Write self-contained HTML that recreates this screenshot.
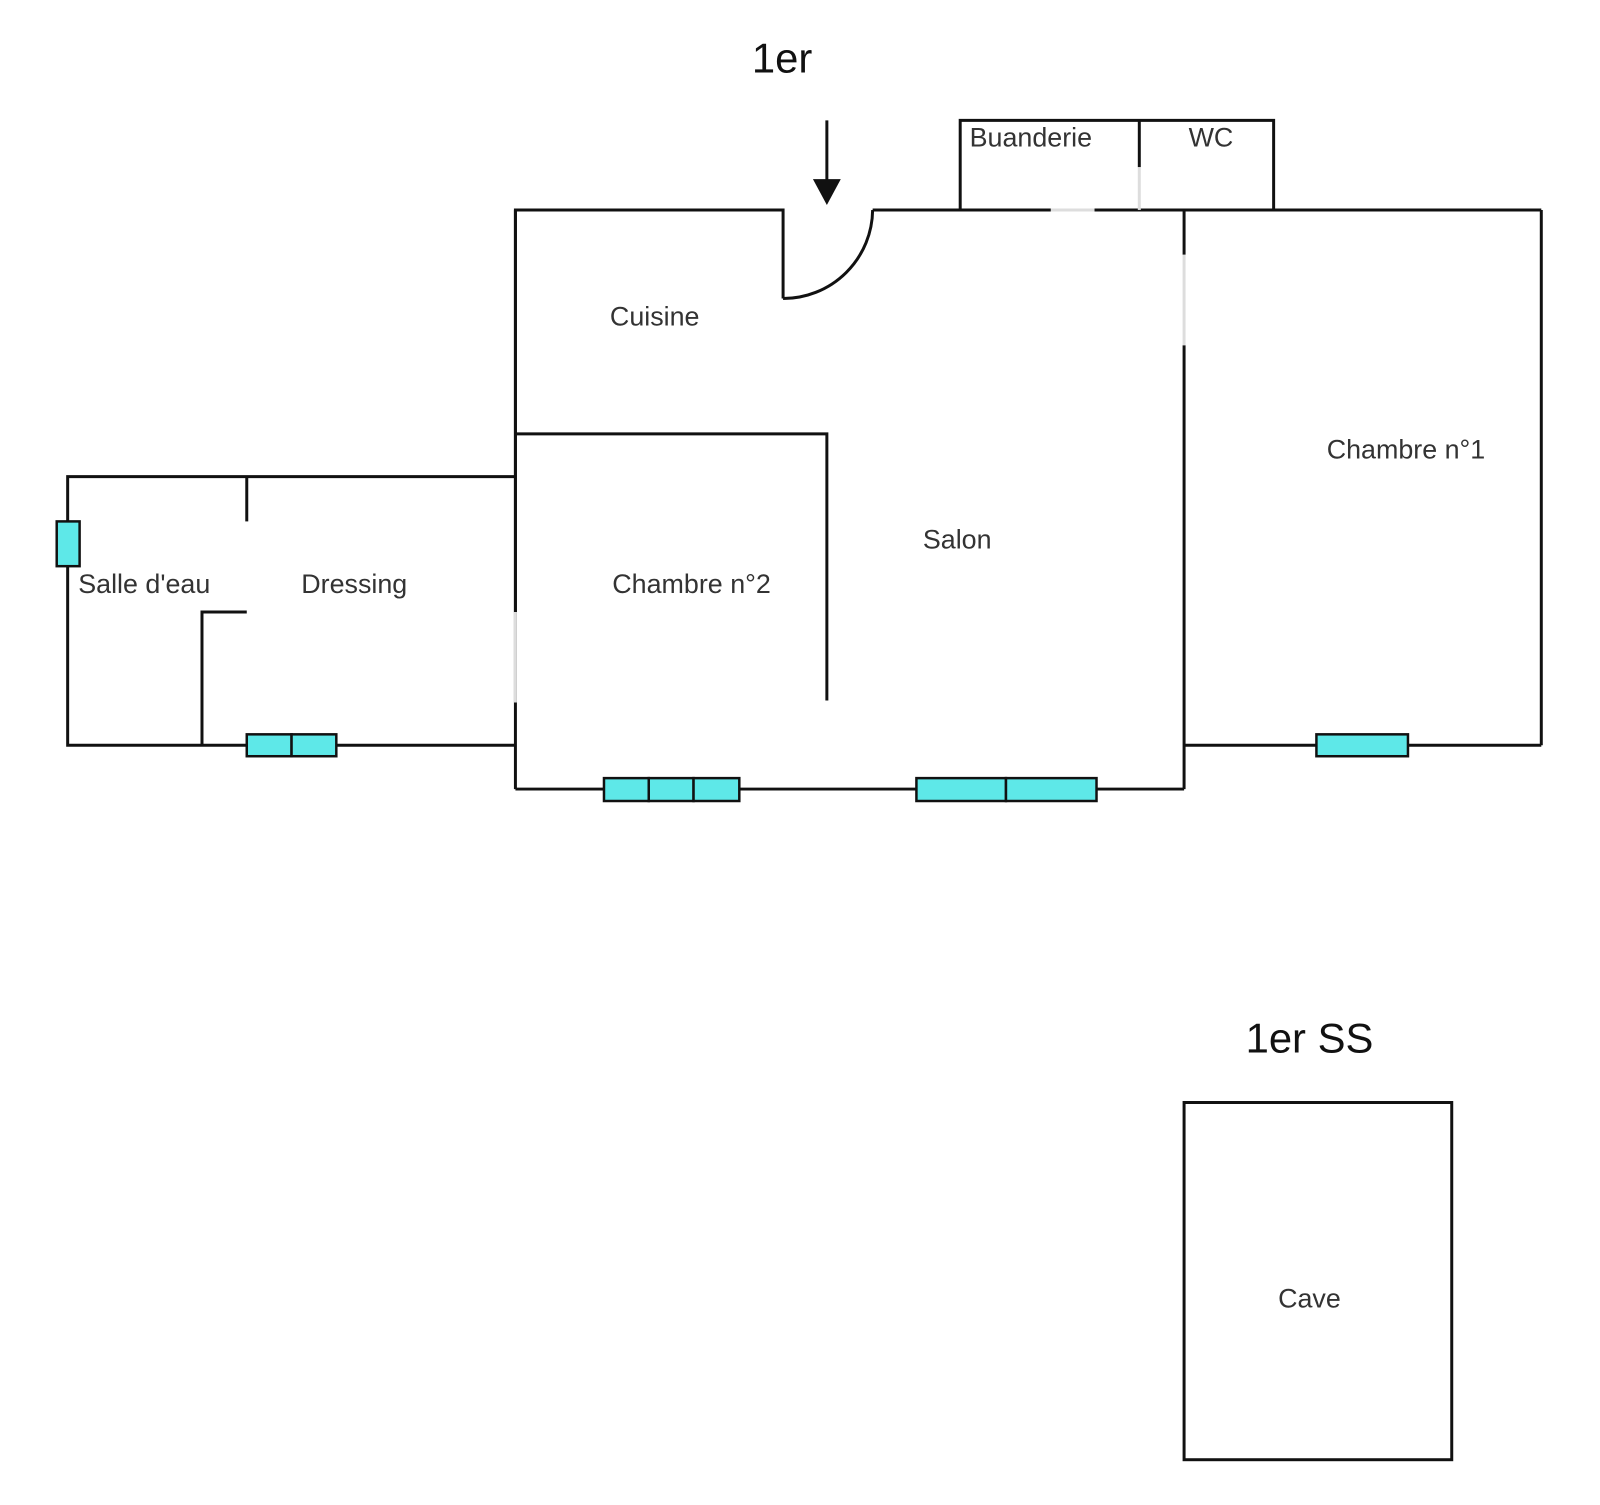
<!DOCTYPE html>
<html><head><meta charset="utf-8"><style>
html,body{margin:0;padding:0;background:#fff;}
svg{display:block;}
text{font-family:"Liberation Sans",sans-serif;fill:#333;}
</style></head><body>
<svg width="1600" height="1505" viewBox="0 0 1608 1512.5" xmlns="http://www.w3.org/2000/svg">
<g stroke="#111" stroke-width="3" fill="none">
<polyline points="518,706 518,211 787,211 787,300"/>
<path d="M787,300 A90,90 0 0 0 877,211"/>
<line x1="877" y1="211" x2="1549" y2="211"/>
<line x1="1549" y1="211" x2="1549" y2="749"/>
<line x1="1190" y1="749" x2="1549" y2="749"/>
<line x1="1190" y1="211" x2="1190" y2="256"/>
<line x1="1190" y1="347" x2="1190" y2="793"/>
<line x1="518" y1="793" x2="1190" y2="793"/>
<line x1="518" y1="211" x2="518" y2="615"/>
<line x1="518" y1="706" x2="518" y2="793"/>
<polyline points="518,436 831,436 831,704"/>
<polyline points="518,479 68,479 68,749 518,749"/>
<line x1="248" y1="479" x2="248" y2="524"/>
<polyline points="203,749 203,615 248,615"/>
<polyline points="965,211 965,121 1280,121 1280,211"/>
<line x1="1145" y1="121" x2="1145" y2="168"/>
<line x1="831" y1="121" x2="831" y2="185"/>
<rect x="1190" y="1108" width="269" height="359"/>
</g>
<g stroke="#ddd" stroke-width="3">
<line x1="1056" y1="211" x2="1100" y2="211"/>
<line x1="1145" y1="168" x2="1145" y2="211"/>
<line x1="1190" y1="256" x2="1190" y2="347"/>
<line x1="518" y1="615" x2="518" y2="706"/>
</g>
<polygon points="817,180 845,180 831,206" fill="#111"/>
<g fill="#5ee8e8" stroke="#111" stroke-width="2.5">
<rect x="248" y="738" width="45" height="22"/><rect x="293" y="738" width="45" height="22"/>
<rect x="1323" y="738" width="92" height="22"/>
<rect x="607" y="782" width="45" height="23"/><rect x="652" y="782" width="45" height="23"/><rect x="697" y="782" width="46" height="23"/>
<rect x="921" y="782" width="90" height="23"/><rect x="1011" y="782" width="91" height="23"/>
<rect x="57" y="524" width="23" height="45"/>
</g>
<g font-size="27" text-anchor="middle">
<text x="658" y="327">Cuisine</text>
<text x="1413" y="461">Chambre n°1</text>
<text x="962" y="551">Salon</text>
<text x="695" y="596">Chambre n°2</text>
<text x="145" y="596">Salle d'eau</text>
<text x="356" y="596">Dressing</text>
<text x="1036" y="147">Buanderie</text>
<text x="1217" y="147">WC</text>
<text x="1316" y="1314">Cave</text>
</g>
<g font-size="42" text-anchor="middle">
<text x="786" y="73" style="fill:#111">1er</text>
<text x="1316" y="1058" style="fill:#111">1er SS</text>
</g>
</svg>
</body></html>
